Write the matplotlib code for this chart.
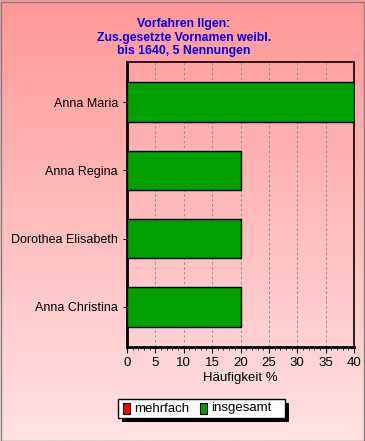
import matplotlib
matplotlib.use("Agg")
import matplotlib.pyplot as plt
import numpy as np
from matplotlib.patches import Rectangle, Patch
from matplotlib.ticker import MultipleLocator

categories = ["Anna Maria", "Anna Regina", "Dorothea Elisabeth", "Anna Christina"]
insgesamt = [40, 20, 20, 20]
mehrfach = [0, 0, 0, 0]
x_ticks = [0, 5, 10, 15, 20, 25, 30, 35, 40]
title = "Vorfahren Ilgen:\nZus.gesetzte Vornamen weibl.\nbis 1640, 5 Nennungen"
xlabel = "Häufigkeit %"

plt.rcParams['font.family'] = ['Liberation Sans', 'DejaVu Sans']

W, H = 365, 441
fig = plt.figure(figsize=(W/100, H/100), dpi=100)

# gradient background
bg = fig.add_axes([0, 0, 1, 1], zorder=-10)
top = np.array([255, 152, 152]) / 255
bot = np.array([255, 226, 226]) / 255
t = np.linspace(0, 1, 256)[:, None]
grad = top[None, :] * (1 - t) + bot[None, :] * t
img = np.repeat(grad[:, None, :], 2, axis=1)
bg.imshow(img, aspect='auto', extent=[0, 1, 0, 1], origin='upper')
bg.set_xlim(0, 1); bg.set_ylim(0, 1)
bg.axis('off')
bg.add_patch(Rectangle((0.5/W, 0.5/H), 1 - 2/W, 1 - 2/H, fill=False, edgecolor='#808080', lw=1))

ax = fig.add_axes([127/W, 1 - 347/H, 227/W, 285/H])
ax.patch.set_alpha(0)
y = np.arange(len(categories))
ax.barh(y, insgesamt, height=0.58, color='#00A000', edgecolor='black', lw=1, zorder=3)
ax.set_yticks(y)
ax.set_yticklabels(categories, fontsize=9)
ax.set_ylim(3.59, -0.59)
ax.set_xlim(0, 40)
ax.set_xticks(x_ticks)
ax.set_xticklabels([str(v) for v in x_ticks], fontsize=9.5)
ax.xaxis.set_minor_locator(MultipleLocator(1))
ax.tick_params(axis='x', which='major', length=4, direction='out')
ax.tick_params(axis='x', which='minor', length=2, direction='out')
ax.tick_params(axis='y', length=3, direction='out')
ax.grid(axis='x', which='major', linestyle=(0, (2.5, 2.5)), color='#909090', lw=0.7, zorder=1)
for s in ['left', 'bottom']:
    ax.spines[s].set_linewidth(2)
for s in ['top', 'right']:
    ax.spines[s].set_linewidth(1.2)
ax.set_xlabel(xlabel, fontsize=9.5, labelpad=2)

fig.text(184/W, 1 - 37.5/H, title, ha='center', va='center', color='#0000EE',
         fontsize=8.8, fontweight='bold', linespacing=1.15)

# legend with shadow
lx0, ly0, lw_, lh_ = 118/W, 1 - 418/H, 167/W, 19/H
fig.patches.append(Rectangle((lx0 + 4/W, ly0 - 4/H), lw_, lh_, transform=fig.transFigure,
                             facecolor='black', edgecolor='none', zorder=5))
fig.patches.append(Rectangle((lx0, ly0), lw_, lh_, transform=fig.transFigure,
                             facecolor='white', edgecolor='black', lw=1, zorder=6))
items = [("mehrfach", '#FF0000', 123), ("insgesamt", '#00A000', 200)]
for lab, col, px in items:
    fig.patches.append(Rectangle((px/W, 1 - 414/H), 7/W, 11/H, transform=fig.transFigure,
                                 facecolor=col, edgecolor='black', lw=0.8, zorder=7))
    fig.text((px + 11)/W, 1 - 408.5/H, lab, fontsize=9.5, va='center', ha='left', zorder=8)

fig.savefig("out.png", dpi=100)
